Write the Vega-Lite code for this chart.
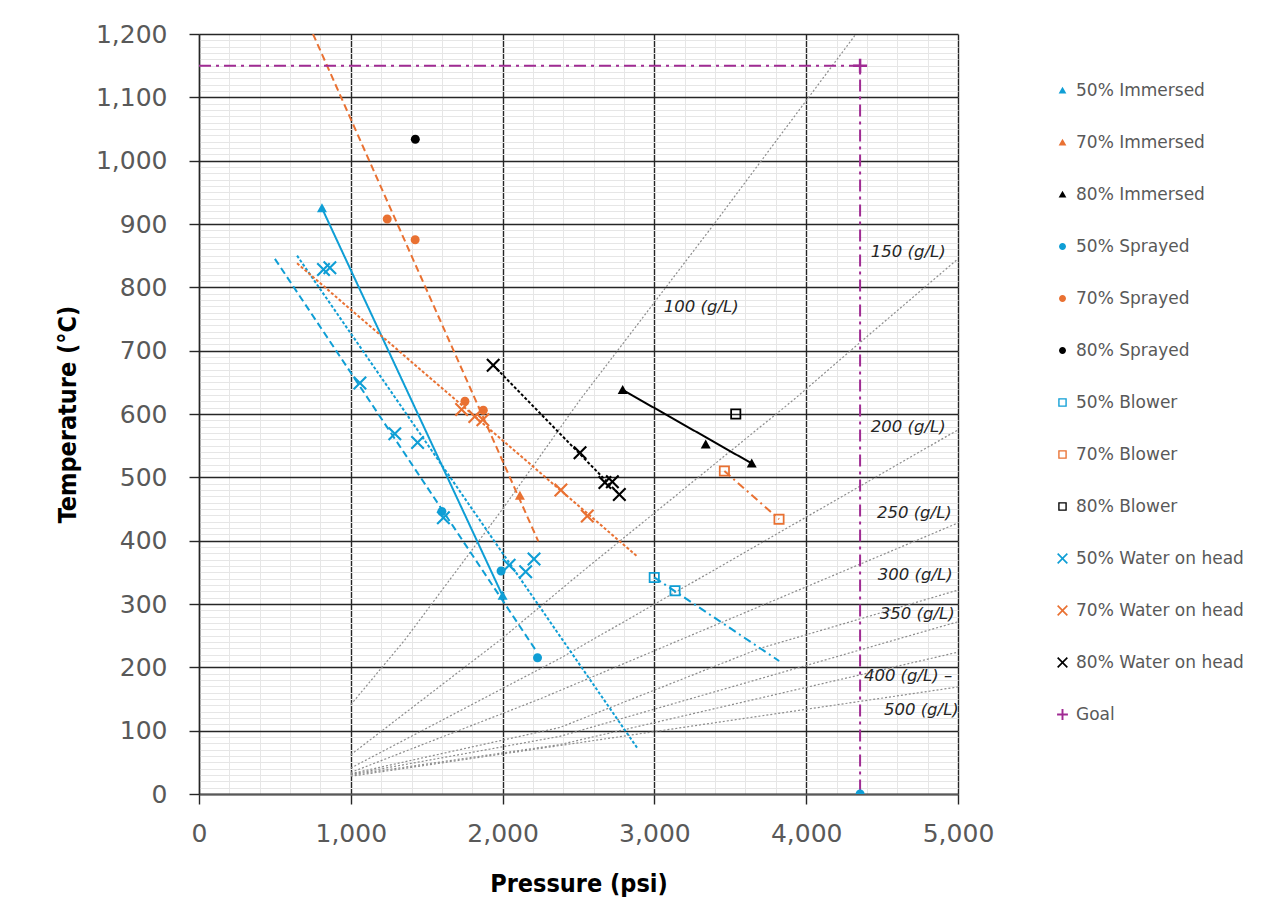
{
  "$schema": "https://vega.github.io/schema/vega-lite/v6.json",
  "autosize": {"type": "none"},
  "padding": {"left": 199, "top": 34, "right": 321, "bottom": 130},
  "width": 759,
  "height": 760,
  "background": "white",
  "config": {
    "view": {"stroke": null}
  },
  "datasets": {
    "points": [
      {"series": "50% Immersed", "x": 810, "y": 925},
      {"series": "50% Immersed", "x": 2000, "y": 313},
      {"series": "70% Immersed", "x": 2114, "y": 471},
      {"series": "80% Immersed", "x": 2791, "y": 638},
      {"series": "80% Immersed", "x": 3338, "y": 552},
      {"series": "80% Immersed", "x": 3641, "y": 522},
      {"series": "50% Sprayed", "x": 1600, "y": 446},
      {"series": "50% Sprayed", "x": 1990, "y": 352},
      {"series": "50% Sprayed", "x": 2230, "y": 215},
      {"series": "50% Sprayed", "x": 4355, "y": 0},
      {"series": "70% Sprayed", "x": 1240, "y": 908},
      {"series": "70% Sprayed", "x": 1424, "y": 875},
      {"series": "70% Sprayed", "x": 1752, "y": 620},
      {"series": "70% Sprayed", "x": 1873, "y": 606},
      {"series": "80% Sprayed", "x": 1425, "y": 1034},
      {"series": "50% Blower", "x": 2999, "y": 342},
      {"series": "50% Blower", "x": 3136, "y": 321},
      {"series": "70% Blower", "x": 3461, "y": 510},
      {"series": "70% Blower", "x": 3821, "y": 434},
      {"series": "80% Blower", "x": 3536, "y": 600},
      {"series": "50% Water on head", "x": 820, "y": 828},
      {"series": "50% Water on head", "x": 862, "y": 831},
      {"series": "50% Water on head", "x": 1060, "y": 649},
      {"series": "50% Water on head", "x": 1290, "y": 569},
      {"series": "50% Water on head", "x": 1440, "y": 555},
      {"series": "50% Water on head", "x": 1610, "y": 436},
      {"series": "50% Water on head", "x": 2043, "y": 361},
      {"series": "50% Water on head", "x": 2152, "y": 351},
      {"series": "50% Water on head", "x": 2207, "y": 371},
      {"series": "70% Water on head", "x": 1730, "y": 607},
      {"series": "70% Water on head", "x": 1817, "y": 596},
      {"series": "70% Water on head", "x": 1870, "y": 591},
      {"series": "70% Water on head", "x": 2384, "y": 480},
      {"series": "70% Water on head", "x": 2558, "y": 439},
      {"series": "80% Water on head", "x": 1938, "y": 677},
      {"series": "80% Water on head", "x": 2510, "y": 539},
      {"series": "80% Water on head", "x": 2674, "y": 492},
      {"series": "80% Water on head", "x": 2723, "y": 493},
      {"series": "80% Water on head", "x": 2769, "y": 473},
      {"series": "Goal", "x": 4355, "y": 1150}
    ],
    "trends": [
      {"series": "50% Immersed", "method": "Immersed", "pt": 1, "x": 810, "y": 925},
      {"series": "50% Immersed", "method": "Immersed", "pt": 2, "x": 2000, "y": 313},
      {"series": "80% Immersed", "method": "Immersed", "pt": 1, "x": 2791, "y": 638},
      {"series": "80% Immersed", "method": "Immersed", "pt": 2, "x": 3641, "y": 522},
      {"series": "50% Sprayed", "method": "Sprayed", "pt": 1, "x": 500, "y": 845},
      {"series": "50% Sprayed", "method": "Sprayed", "pt": 2, "x": 2224, "y": 225},
      {"series": "70% Sprayed", "method": "Sprayed", "pt": 1, "x": 751, "y": 1200},
      {"series": "70% Sprayed", "method": "Sprayed", "pt": 2, "x": 2235, "y": 399},
      {"series": "50% Water on head", "method": "Water on head", "pt": 1, "x": 646, "y": 850},
      {"series": "50% Water on head", "method": "Water on head", "pt": 2, "x": 2886, "y": 73},
      {"series": "70% Water on head", "method": "Water on head", "pt": 1, "x": 646, "y": 838},
      {"series": "70% Water on head", "method": "Water on head", "pt": 2, "x": 2883, "y": 376},
      {"series": "80% Water on head", "method": "Water on head", "pt": 1, "x": 1938, "y": 677},
      {"series": "80% Water on head", "method": "Water on head", "pt": 2, "x": 2769, "y": 473},
      {"series": "50% Blower", "method": "Blower", "pt": 1, "x": 2999, "y": 342},
      {"series": "50% Blower", "method": "Blower", "pt": 2, "x": 3822, "y": 210},
      {"series": "70% Blower", "method": "Blower", "pt": 1, "x": 3461, "y": 510},
      {"series": "70% Blower", "method": "Blower", "pt": 2, "x": 3821, "y": 434},
      {"series": "Goal", "method": "Goal", "pt": 1, "x": 0, "y": 1150},
      {"series": "Goal", "method": "Goal", "pt": 2, "x": 4355, "y": 1150},
      {"series": "Goal", "method": "Goal", "pt": 3, "x": 4355, "y": 0}
    ],
    "density": [
      {"density": "100", "x": 1000, "y": 141},
      {"density": "100", "x": 1355, "y": 243},
      {"density": "100", "x": 2000, "y": 450},
      {"density": "100", "x": 2509, "y": 622},
      {"density": "100", "x": 3387, "y": 898},
      {"density": "100", "x": 4010, "y": 1098},
      {"density": "100", "x": 4328, "y": 1200},
      {"density": "150", "x": 1000, "y": 62},
      {"density": "150", "x": 1983, "y": 243},
      {"density": "150", "x": 2509, "y": 348},
      {"density": "150", "x": 3915, "y": 622},
      {"density": "150", "x": 4355, "y": 713},
      {"density": "150", "x": 5000, "y": 845},
      {"density": "200", "x": 1000, "y": 41},
      {"density": "200", "x": 2377, "y": 214},
      {"density": "200", "x": 3563, "y": 377},
      {"density": "200", "x": 5000, "y": 575},
      {"density": "250", "x": 1000, "y": 34},
      {"density": "250", "x": 2245, "y": 150},
      {"density": "250", "x": 3563, "y": 283},
      {"density": "250", "x": 5000, "y": 428},
      {"density": "300", "x": 1000, "y": 32},
      {"density": "300", "x": 2377, "y": 105},
      {"density": "300", "x": 3696, "y": 230},
      {"density": "300", "x": 5000, "y": 322},
      {"density": "350", "x": 1000, "y": 31},
      {"density": "350", "x": 2377, "y": 91},
      {"density": "350", "x": 5000, "y": 272},
      {"density": "400", "x": 1000, "y": 30},
      {"density": "400", "x": 2377, "y": 78},
      {"density": "400", "x": 5000, "y": 224},
      {"density": "500", "x": 1000, "y": 28},
      {"density": "500", "x": 5000, "y": 169}
    ],
    "labels": [
      {"label": "100 (g/L)", "x": 3062, "y": 769},
      {"label": "150 (g/L)", "x": 4426, "y": 856},
      {"label": "200 (g/L)", "x": 4426, "y": 580},
      {"label": "250 (g/L)", "x": 4466, "y": 444},
      {"label": "300 (g/L)", "x": 4472, "y": 346},
      {"label": "350 (g/L)", "x": 4485, "y": 284},
      {"label": "400 (g/L) –", "x": 4380, "y": 186},
      {"label": "500 (g/L)", "x": 4512, "y": 133}
    ]
  },
  "layer": [
    {
      "data": {"name": "density"},
      "mark": {"type": "line", "color": "#8c8c8c", "strokeWidth": 1.2, "strokeDash": [2, 2], "clip": true},
      "encoding": {
        "x": {
          "field": "x", "type": "quantitative",
          "scale": {"domain": [0, 5000], "nice": false, "zero": false},
          "axis": {
            "orient": "bottom", "grid": true, "gridColor": "#e6e6e6", "gridWidth": 1,
            "labels": false, "ticks": false, "domain": false, "title": null,
            "values": [0,200,400,600,800,1000,1200,1400,1600,1800,2000,2200,2400,2600,2800,3000,3200,3400,3600,3800,4000,4200,4400,4600,4800,5000]
          }
        },
        "y": {
          "field": "y", "type": "quantitative",
          "scale": {"domain": [0, 1200], "nice": false, "zero": false},
          "axis": {
            "orient": "left", "grid": true, "gridColor": "#e6e6e6", "gridWidth": 1,
            "labels": false, "ticks": false, "domain": false, "title": null,
            "values": [0,10,20,30,40,50,60,70,80,90,100,110,120,130,140,150,160,170,180,190,200,210,220,230,240,250,260,270,280,290,300,310,320,330,340,350,360,370,380,390,400,410,420,430,440,450,460,470,480,490,500,510,520,530,540,550,560,570,580,590,600,610,620,630,640,650,660,670,680,690,700,710,720,730,740,750,760,770,780,790,800,810,820,830,840,850,860,870,880,890,900,910,920,930,940,950,960,970,980,990,1000,1010,1020,1030,1040,1050,1060,1070,1080,1090,1100,1110,1120,1130,1140,1150,1160,1170,1180,1190,1200]
          }
        },
        "detail": {"field": "density", "type": "nominal"}
      }
    },
    {
      "data": {"name": "trends"},
      "mark": {"type": "line", "strokeWidth": 2, "clip": true},
      "encoding": {
        "x": {
          "field": "x", "type": "quantitative",
          "axis": {
            "orient": "bottom", "values": [0, 1000, 2000, 3000, 4000, 5000], "format": ",d",
            "grid": true, "gridColor": "#262626", "gridWidth": 1.4,
            "domainColor": "#595959", "domainWidth": 2,
            "tickColor": "#262626", "tickSize": 10, "tickWidth": 1.4,
            "labelFont": "DejaVu Sans", "labelFontSize": 25, "labelColor": "#595959",
            "labelPadding": 17, "labelFlush": false,
            "title": "Pressure (psi)", "titleFont": "DejaVu Sans Condensed", "titleFontWeight": "bold",
            "titleFontSize": 25, "titleColor": "#000000", "titleY": 89, "titleBaseline": "middle"
          }
        },
        "y": {
          "field": "y", "type": "quantitative",
          "axis": {
            "orient": "left", "values": [0,100,200,300,400,500,600,700,800,900,1000,1100,1200], "format": ",d",
            "grid": true, "gridColor": "#262626", "gridWidth": 1.4,
            "domainColor": "#262626", "domainWidth": 1.4,
            "tickColor": "#262626", "tickSize": 10, "tickWidth": 1.4,
            "labelFont": "DejaVu Sans", "labelFontSize": 25, "labelColor": "#595959",
            "labelPadding": 22, "labelFlush": false,
            "title": "Temperature (°C)", "titleFont": "DejaVu Sans Condensed", "titleFontWeight": "bold",
            "titleFontSize": 25, "titleColor": "#000000", "titleX": -132, "titleY": 380,
            "titleAngle": 270, "titleAlign": "center", "titleBaseline": "middle"
          }
        },
        "stroke": {
          "field": "series", "type": "nominal", "legend": null,
          "scale": {
            "domain": ["50% Immersed","80% Immersed","50% Sprayed","70% Sprayed","50% Blower","70% Blower","50% Water on head","70% Water on head","80% Water on head","Goal"],
            "range": ["#0F9ED5","#000000","#0F9ED5","#E97132","#0F9ED5","#E97132","#0F9ED5","#E97132","#000000","#A02B93"]
          }
        },
        "strokeDash": {
          "field": "method", "type": "nominal", "legend": null,
          "scale": {
            "domain": ["Immersed", "Sprayed", "Water on head", "Blower", "Goal"],
            "range": [[1, 0], [7, 4], [3, 2], [8, 4, 2, 4], [12, 5, 3, 5]]
          }
        },
        "order": {"field": "pt", "type": "quantitative"}
      }
    },
    {
      "data": {"name": "labels"},
      "mark": {"type": "text", "align": "left", "baseline": "middle", "font": "DejaVu Sans", "fontStyle": "italic", "fontSize": 16.5, "color": "#262626"},
      "encoding": {
        "x": {"field": "x", "type": "quantitative", "axis": null},
        "y": {"field": "y", "type": "quantitative", "axis": null},
        "text": {"field": "label"}
      }
    },
    {
      "data": {"name": "points"},
      "mark": {"type": "point", "filled": true, "opacity": 1, "size": 100, "strokeWidth": 0, "clip": true},
      "encoding": {
        "x": {"field": "x", "type": "quantitative", "axis": null},
        "y": {"field": "y", "type": "quantitative", "axis": null},
        "color": {
          "field": "series", "type": "nominal", "title": null,
          "scale": {
            "domain": ["50% Immersed","70% Immersed","80% Immersed","50% Sprayed","70% Sprayed","80% Sprayed","50% Blower","70% Blower","80% Blower","50% Water on head","70% Water on head","80% Water on head","Goal"],
            "range": ["#0F9ED5","#E97132","#000000","#0F9ED5","#E97132","#000000","#0F9ED5","#E97132","#000000","#0F9ED5","#E97132","#000000","#A02B93"]
          },
          "legend": {
            "orient": "none", "legendX": 855, "legendY": 48, "title": null,
            "labelFont": "DejaVu Sans", "labelFontSize": 17, "labelColor": "#595959", "labelLimit": 400,
            "rowPadding": 34, "symbolSize": 60, "symbolStrokeWidth": 0, "labelOffset": 5
          }
        },
        "shape": {
          "field": "series", "type": "nominal", "title": null,
          "scale": {
            "domain": ["50% Immersed","70% Immersed","80% Immersed","50% Sprayed","70% Sprayed","80% Sprayed","50% Blower","70% Blower","80% Blower","50% Water on head","70% Water on head","80% Water on head","Goal"],
            "range": [
              "M0,-1L1,0.8L-1,0.8Z", "M0,-1L1,0.8L-1,0.8Z", "M0,-1L1,0.8L-1,0.8Z",
              "M-0.9,0A0.9,0.9 0 1,0 0.9,0A0.9,0.9 0 1,0 -0.9,0Z", "M-0.9,0A0.9,0.9 0 1,0 0.9,0A0.9,0.9 0 1,0 -0.9,0Z", "M-0.9,0A0.9,0.9 0 1,0 0.9,0A0.9,0.9 0 1,0 -0.9,0Z",
              "M-1.1,-1.1H1.1V1.1H-1.1Z M-0.75,-0.75V0.75H0.75V-0.75Z", "M-1.1,-1.1H1.1V1.1H-1.1Z M-0.75,-0.75V0.75H0.75V-0.75Z", "M-1.1,-1.1H1.1V1.1H-1.1Z M-0.75,-0.75V0.75H0.75V-0.75Z",
              "M-1.4,-1.1L-1.1,-1.4L0,-0.3L1.1,-1.4L1.4,-1.1L0.3,0L1.4,1.1L1.1,1.4L0,0.3L-1.1,1.4L-1.4,1.1L-0.3,0Z", "M-1.4,-1.1L-1.1,-1.4L0,-0.3L1.1,-1.4L1.4,-1.1L0.3,0L1.4,1.1L1.1,1.4L0,0.3L-1.1,1.4L-1.4,1.1L-0.3,0Z", "M-1.4,-1.1L-1.1,-1.4L0,-0.3L1.1,-1.4L1.4,-1.1L0.3,0L1.4,1.1L1.1,1.4L0,0.3L-1.1,1.4L-1.4,1.1L-0.3,0Z",
              "M-1.4,-0.25H-0.25V-1.4H0.25V-0.25H1.4V0.25H0.25V1.4H-0.25V0.25H-1.4Z"
            ]
          },
          "legend": {
            "orient": "none", "legendX": 855, "legendY": 48, "title": null,
            "labelFont": "DejaVu Sans", "labelFontSize": 17, "labelColor": "#595959", "labelLimit": 400,
            "rowPadding": 34, "symbolSize": 60, "symbolStrokeWidth": 0, "labelOffset": 5
          }
        }
      }
    }
  ],
  "resolve": {"axis": {"x": "independent", "y": "independent"}}
}
